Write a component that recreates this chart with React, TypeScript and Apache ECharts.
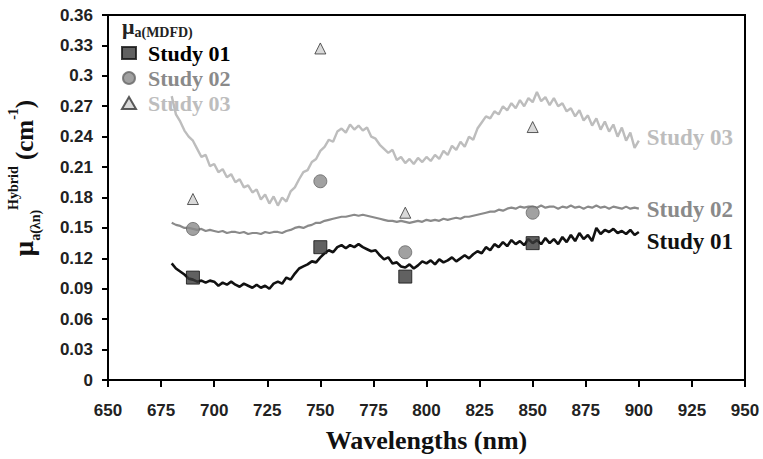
import React, { useEffect, useRef } from "react";
import * as echarts from "echarts";

const wavelengths = [
  680, 682, 684, 686, 688, 690, 692, 694, 696, 698, 700, 702, 704, 706, 708, 710, 712, 714, 716, 718,
  720, 722, 724, 726, 728, 730, 732, 734, 736, 738, 740, 742, 744, 746, 748, 750, 752, 754, 756, 758,
  760, 762, 764, 766, 768, 770, 772, 774, 776, 778, 780, 782, 784, 786, 788, 790, 792, 794, 796, 798,
  800, 802, 804, 806, 808, 810, 812, 814, 816, 818, 820, 822, 824, 826, 828, 830, 832, 834, 836, 838,
  840, 842, 844, 846, 848, 850, 852, 854, 856, 858, 860, 862, 864, 866, 868, 870, 872, 874, 876, 878,
  880, 882, 884, 886, 888, 890, 892, 894, 896, 898, 900,
];

const study01Spectrum = [
  0.115, 0.110, 0.107, 0.104, 0.100, 0.099, 0.097, 0.098, 0.096, 0.098, 0.097, 0.093, 0.096, 0.094, 0.097, 0.094, 0.092, 0.095, 0.093, 0.091,
  0.094, 0.091, 0.093, 0.090, 0.095, 0.097, 0.095, 0.101, 0.099, 0.105, 0.110, 0.112, 0.114, 0.117, 0.116, 0.121, 0.125, 0.128, 0.126, 0.131,
  0.133, 0.130, 0.133, 0.131, 0.134, 0.131, 0.129, 0.127, 0.128, 0.123, 0.119, 0.121, 0.115, 0.116, 0.112, 0.111, 0.114, 0.110, 0.113, 0.117,
  0.115, 0.118, 0.114, 0.119, 0.116, 0.118, 0.121, 0.117, 0.120, 0.123, 0.120, 0.124, 0.127, 0.125, 0.131, 0.128, 0.134, 0.131, 0.136, 0.132,
  0.138, 0.134, 0.137, 0.133, 0.139, 0.135, 0.138, 0.134, 0.140, 0.135, 0.139, 0.134, 0.141, 0.136, 0.143, 0.137, 0.145, 0.139, 0.143, 0.137,
  0.150, 0.144, 0.148, 0.146, 0.149, 0.145, 0.147, 0.144, 0.148, 0.143, 0.146,
];

const study02Spectrum = [
  0.155, 0.153, 0.152, 0.150, 0.150, 0.149, 0.148, 0.149, 0.147, 0.148, 0.147, 0.146, 0.147, 0.145, 0.146, 0.146, 0.145, 0.146, 0.144, 0.145,
  0.145, 0.144, 0.146, 0.145, 0.146, 0.146, 0.145, 0.147, 0.148, 0.150, 0.151, 0.150, 0.152, 0.153, 0.155, 0.155, 0.157, 0.158, 0.159, 0.160,
  0.161, 0.161, 0.162, 0.163, 0.162, 0.163, 0.162, 0.161, 0.160, 0.159, 0.158, 0.157, 0.157, 0.156, 0.157, 0.156, 0.155, 0.156, 0.157, 0.156,
  0.158, 0.157, 0.158, 0.157, 0.159, 0.158, 0.159, 0.160, 0.159, 0.161, 0.161, 0.162, 0.163, 0.164, 0.165, 0.166, 0.166, 0.168, 0.167, 0.169,
  0.170, 0.169, 0.171, 0.170, 0.171, 0.171, 0.170, 0.172, 0.170, 0.171, 0.171, 0.169, 0.171, 0.170, 0.172, 0.170, 0.171, 0.169, 0.171, 0.170,
  0.172, 0.170, 0.171, 0.169, 0.171, 0.170, 0.169, 0.171, 0.169, 0.170, 0.169,
];

const study03Spectrum = [
  0.280, 0.262, 0.255, 0.246, 0.240, 0.236, 0.228, 0.220, 0.222, 0.211, 0.213, 0.205, 0.208, 0.200, 0.203, 0.195, 0.198, 0.190, 0.192, 0.185,
  0.188, 0.178, 0.183, 0.174, 0.181, 0.172, 0.180, 0.176, 0.186, 0.190, 0.198, 0.205, 0.207, 0.215, 0.218, 0.226, 0.230, 0.237, 0.235, 0.245,
  0.248, 0.244, 0.252, 0.247, 0.251, 0.246, 0.249, 0.240, 0.238, 0.232, 0.228, 0.224, 0.227, 0.217, 0.220, 0.214, 0.218, 0.213, 0.219, 0.215,
  0.220, 0.216, 0.222, 0.218, 0.226, 0.222, 0.231, 0.227, 0.235, 0.230, 0.240, 0.237, 0.248, 0.254, 0.260, 0.258, 0.265, 0.262, 0.270, 0.266,
  0.273, 0.268, 0.276, 0.270, 0.278, 0.274, 0.284, 0.275, 0.279, 0.271, 0.278, 0.270, 0.273, 0.265, 0.268, 0.260, 0.266, 0.256, 0.261, 0.251,
  0.258, 0.247, 0.255, 0.245, 0.252, 0.240, 0.249, 0.236, 0.244, 0.229, 0.236,
];

const mdfdWavelengths = [690, 750, 790, 850];
const study01Mdfd = [0.101, 0.131, 0.102, 0.135];
const study02Mdfd = [0.149, 0.196, 0.126, 0.165];
const study03Mdfd = [0.1785, 0.327, 0.165, 0.2495];

const studyNames = ["Study 01", "Study 02", "Study 03"];
const lineColors = ["#111111", "#8a8a8a", "#bdbdbd"];

const serif = "'Liberation Serif', 'DejaVu Serif', serif";
const sans = "'Liberation Sans', Arial, sans-serif";

const pair = (xs: number[], ys: number[]) => xs.map((x, i) => [x, ys[i]]);

export default function App() {
  const ref = useRef<HTMLDivElement>(null);
  useEffect(() => {
    document.body.style.margin = "0";
    const chart = echarts.init(ref.current!, undefined, { renderer: "svg" });
    const spectra = [study01Spectrum, study02Spectrum, study03Spectrum];
    const mdfd = [study01Mdfd, study02Mdfd, study03Mdfd];
    const endOffsets = [[0, 10], [0, 1], [0, -3]];
    const lineWidths = [2.6, 2.2, 2.4];
    const lineSeries = spectra.map((s, i) => ({
      name: studyNames[i] + " spectrum",
      type: "line",
      data: pair(wavelengths, s),
      showSymbol: false,
      symbol: "none",
      lineStyle: { color: lineColors[i], width: lineWidths[i] },
      z: 2 + (2 - i),
      endLabel: {
        show: true,
        formatter: studyNames[i],
        distance: 8,
        offset: endOffsets[i],
        color: lineColors[i],
        fontFamily: serif,
        fontWeight: "bold",
        fontSize: 23,
      },
    }));
    const markerStyles = [
      { symbol: "rect", symbolSize: 13, itemStyle: { color: "#3a3a3a", borderColor: "#111", borderWidth: 1 } },
      { symbol: "circle", symbolSize: 13, itemStyle: { color: "#8a8a8a", borderColor: "#666", borderWidth: 1 } },
      { symbol: "triangle", symbolSize: 11, itemStyle: { color: "#cfcfcf", borderColor: "#333", borderWidth: 1 } },
    ];
    const scatterSeries = mdfd.map((m, i) => ({
      name: studyNames[i],
      type: "scatter",
      data: pair(mdfdWavelengths, m),
      z: 10,
      ...markerStyles[i],
    }));
    chart.setOption({
      animation: false,
      backgroundColor: "#ffffff",
      grid: {
        left: 108,
        right: 18,
        top: 15,
        bottom: 79,
        show: true,
        borderColor: "#000",
        borderWidth: 2,
      },
      legend: {
        orient: "vertical",
        left: 121,
        top: 42,
        padding: 0,
        itemWidth: 14,
        itemHeight: 12,
        itemGap: 3,
        data: studyNames.map((n, i) => ({
          name: n,
          textStyle: { color: i === 0 ? "#000" : lineColors[i] },
        })),
        textStyle: {
          fontFamily: serif,
          fontWeight: "bold",
          fontSize: 22,
          lineHeight: 20,
          padding: [0, 0, 0, 7],
        },
      },
      xAxis: {
        type: "value",
        min: 650,
        max: 950,
        interval: 25,
        name: "Wavelengths (nm)",
        nameLocation: "middle",
        nameGap: 47,
        nameTextStyle: { fontFamily: serif, fontWeight: "bold", fontSize: 26, color: "#111" },
        axisLine: { lineStyle: { color: "#000", width: 2 } },
        axisTick: { inside: false, length: 7, lineStyle: { color: "#000", width: 2 } },
        axisLabel: { fontFamily: sans, fontWeight: "bold", fontSize: 17, color: "#222", margin: 22 },
        splitLine: { show: false },
      },
      yAxis: {
        type: "value",
        min: 0,
        max: 0.36,
        interval: 0.03,
        axisLine: { show: true, lineStyle: { color: "#000", width: 2 } },
        axisTick: { show: true, length: 6, lineStyle: { color: "#000", width: 2 } },
        axisLabel: {
          fontFamily: sans,
          fontWeight: "bold",
          fontSize: 17,
          color: "#222",
          margin: 15,
          formatter: (v: number) => String(parseFloat(v.toFixed(2))),
        },
        splitLine: { show: false },
      },
      graphic: [
        {
          type: "text",
          left: 122,
          top: 15,
          style: {
            text: "{mu|μ}{sub|a(MDFD)}",
            rich: {
              mu: { fontFamily: serif, fontSize: 22, fontWeight: "bold", fill: "#222", lineHeight: 26, verticalAlign: "middle" },
              sub: { fontFamily: serif, fontSize: 14, fontWeight: "bold", fill: "#222", lineHeight: 26, verticalAlign: "bottom" },
            },
          },
        },
        {
          type: "text",
          x: 24,
          y: 178,
          rotation: Math.PI / 2,
          style: {
            text: "{mu|μ}{sub|a(λn)}{sup|Hybrid}{main| (cm}{sup|-1}{main|)}",
            align: "center",
            verticalAlign: "middle",
            rich: {
              mu: { fontFamily: serif, fontSize: 27, fontWeight: "bold", fill: "#111", lineHeight: 36, verticalAlign: "middle" },
              main: { fontFamily: serif, fontSize: 25, fontWeight: "bold", fill: "#111", lineHeight: 36, verticalAlign: "middle" },
              sub: { fontFamily: serif, fontSize: 14, fontWeight: "bold", fill: "#111", lineHeight: 36, verticalAlign: "bottom" },
              sup: { fontFamily: serif, fontSize: 14, fontWeight: "bold", fill: "#111", lineHeight: 36, verticalAlign: "top" },
            },
          },
        },
      ],
      series: [...lineSeries, ...scatterSeries],
    });
    return () => chart.dispose();
  }, []);
  return <div ref={ref} style={{ width: 763, height: 459 }} />;
}
